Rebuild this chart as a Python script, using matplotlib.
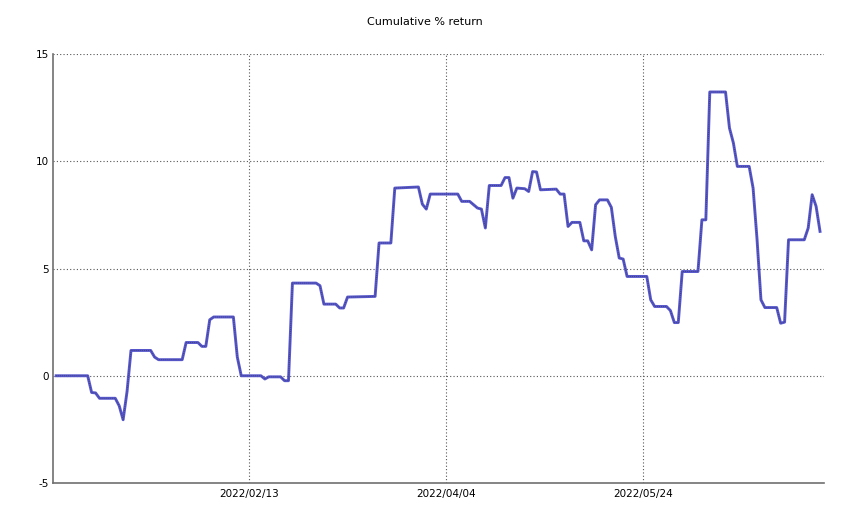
import pandas as pd
import numpy as np
import matplotlib
matplotlib.use("Agg")
import matplotlib.pyplot as plt
import matplotlib.dates as mdates

plt.rcParams["axes.unicode_minus"] = False

# Puntos de quiebre de la curva (fecha, % acumulado)
dates = [
    "2021-12-26", "2022-01-03", "2022-01-04", "2022-01-05", "2022-01-06", "2022-01-10",
    "2022-01-11", "2022-01-12", "2022-01-13", "2022-01-14", "2022-01-19", "2022-01-20",
    "2022-01-21", "2022-01-27", "2022-01-28", "2022-01-31", "2022-02-01", "2022-02-02",
    "2022-02-03", "2022-02-04", "2022-02-09", "2022-02-10", "2022-02-11", "2022-02-16",
    "2022-02-17", "2022-02-18", "2022-02-21", "2022-02-22", "2022-02-23", "2022-02-24",
    "2022-03-02", "2022-03-03", "2022-03-04", "2022-03-07", "2022-03-08", "2022-03-09",
    "2022-03-10", "2022-03-17", "2022-03-18", "2022-03-21", "2022-03-22", "2022-03-28",
    "2022-03-29", "2022-03-30", "2022-03-31", "2022-04-07", "2022-04-08", "2022-04-10",
    "2022-04-12", "2022-04-13", "2022-04-14", "2022-04-15", "2022-04-18", "2022-04-19",
    "2022-04-20", "2022-04-21", "2022-04-22", "2022-04-24", "2022-04-25", "2022-04-26",
    "2022-04-27", "2022-04-28", "2022-05-02", "2022-05-03", "2022-05-04", "2022-05-05",
    "2022-05-06", "2022-05-08", "2022-05-09", "2022-05-10", "2022-05-11", "2022-05-12",
    "2022-05-13", "2022-05-15", "2022-05-16", "2022-05-17", "2022-05-18", "2022-05-19",
    "2022-05-20", "2022-05-25", "2022-05-26", "2022-05-27", "2022-05-30", "2022-05-31",
    "2022-06-01", "2022-06-02", "2022-06-03", "2022-06-07", "2022-06-08", "2022-06-09",
    "2022-06-10", "2022-06-14", "2022-06-15", "2022-06-16", "2022-06-17", "2022-06-20",
    "2022-06-21", "2022-06-22", "2022-06-23", "2022-06-24", "2022-06-27", "2022-06-28",
    "2022-06-29", "2022-06-30", "2022-07-04", "2022-07-05", "2022-07-06", "2022-07-07",
    "2022-07-08",
]
returns = [
    0.00, 0.00, -0.78, -0.80, -1.05, -1.05,
    -1.40, -2.05, -0.73, 1.18, 1.18, 0.87,
    0.75, 0.75, 1.55, 1.55, 1.37, 1.37,
    2.61, 2.74, 2.74, 0.87, 0.00, 0.00,
    -0.15, -0.05, -0.05, -0.23, -0.23, 4.32,
    4.32, 4.20, 3.34, 3.34, 3.16, 3.16,
    3.67, 3.70, 6.19, 6.19, 8.75, 8.80,
    8.00, 7.77, 8.47, 8.47, 8.13, 8.13,
    7.82, 7.77, 6.89, 8.87, 8.87, 9.24,
    9.24, 8.28, 8.75, 8.72, 8.59, 9.52,
    9.50, 8.67, 8.70, 8.47, 8.47, 6.96,
    7.15, 7.15, 6.29, 6.29, 5.87, 7.97,
    8.20, 8.20, 7.85, 6.49, 5.49, 5.44,
    4.63, 4.63, 3.54, 3.23, 3.23, 3.04,
    2.48, 2.48, 4.86, 4.86, 7.27, 7.27,
    13.23, 13.23, 11.55, 10.85, 9.76, 9.76,
    8.75, 6.37, 3.54, 3.18, 3.18, 2.45,
    2.50, 6.34, 6.34, 6.89, 8.44, 7.90,
    6.73,
]
tick_dates = ["2022-02-13", "2022-04-04", "2022-05-24"]
y_ticks = [-5, 0, 5, 10, 15]

x = pd.to_datetime(dates)

fig = plt.figure(figsize=(8.5, 5.28), dpi=100)
ax = fig.add_axes([0.0624, 0.0852, 0.9065, 0.8125])

ax.plot(x, returns, color="#5858cc", linewidth=2.1, solid_joinstyle="round", zorder=3)
ax.plot(x, returns, color="#2a2a55", linewidth=0.7, linestyle=(0, (1, 1)), alpha=0.55, zorder=4)

ax.set_ylim(-5, 15)
ax.set_yticks(y_ticks)
left = pd.Timestamp("2022-02-13") - pd.Timedelta(days=49.8)
right = pd.Timestamp("2022-05-24") + pd.Timedelta(days=45.9)
ax.set_xlim(left, right)
ax.set_xticks(pd.to_datetime(tick_dates))
ax.xaxis.set_major_formatter(mdates.DateFormatter("%Y/%m/%d"))

ax.grid(True, color="#555555", linestyle=(0, (1, 2)), linewidth=0.8)
ax.set_axisbelow(True)
for s in ["top", "right"]:
    ax.spines[s].set_visible(False)
for s in ["left", "bottom"]:
    ax.spines[s].set_color("#707070")
    ax.spines[s].set_linewidth(1.2)
ax.tick_params(length=0, labelsize=7.5, colors="black", pad=4)
ax.tick_params(axis="y", pad=3)

fig.text(0.5, 0.958, "Cumulative % return", ha="center", va="center", fontsize=8)

fig.savefig("out.png", dpi=100, facecolor="white")
